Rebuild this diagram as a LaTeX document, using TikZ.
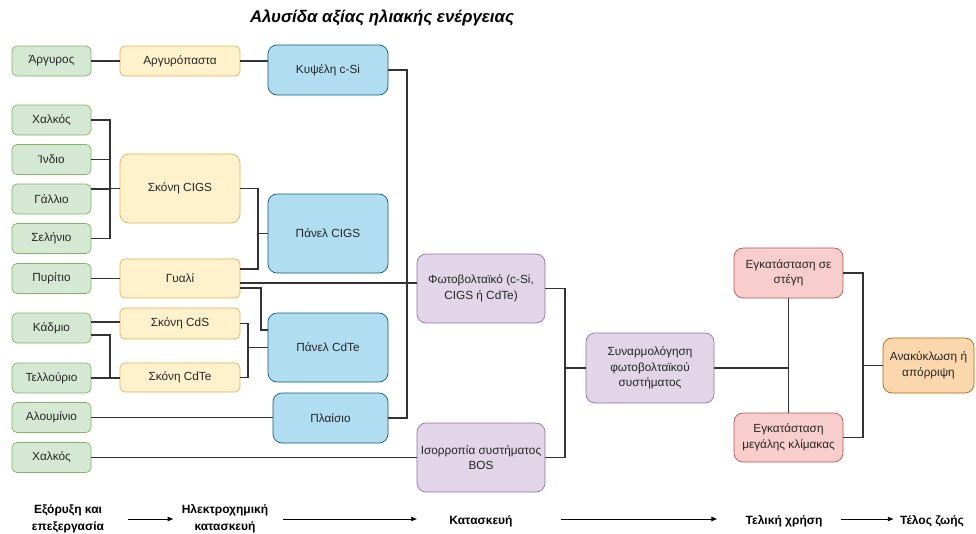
\documentclass[tikz,border=0pt]{standalone}
\usepackage{fontspec}
\setmainfont{Liberation Sans}
\usetikzlibrary{arrows.meta}
\definecolor{gF}{HTML}{D5E8D4}\definecolor{gD}{HTML}{82B366}
\definecolor{yF}{HTML}{FFF2CC}\definecolor{yD}{HTML}{D6B656}
\definecolor{bF}{HTML}{B1DDF0}\definecolor{bD}{HTML}{10739E}
\definecolor{pF}{HTML}{E1D5E7}\definecolor{pD}{HTML}{9673A6}
\definecolor{rF}{HTML}{F8CECC}\definecolor{rD}{HTML}{B85450}
\definecolor{oF}{HTML}{FAD7AC}\definecolor{oD}{HTML}{B46504}
\definecolor{ln}{HTML}{333333}
\begin{document}
\begin{tikzpicture}[x=1pt,y=-1pt,
  cell/.style={draw, rounded corners=5pt, align=center, inner sep=1pt, line width=0.7pt,
    font=\fontsize{11.8}{15.5}\selectfont, text=black!85},
  bigcell/.style={cell, rounded corners=9pt},
  gbox/.style={cell, fill=gF, draw=gD, minimum width=79pt, minimum height=30pt},
  ybox/.style={cell, fill=yF, draw=yD, minimum width=120pt},
  bbox/.style={bigcell, fill=bF, draw=bD!80!black, minimum width=120pt},
  pbox/.style={bigcell, fill=pF, draw=pD, minimum width=128pt},
  rbox/.style={bigcell, fill=rF, draw=rD, minimum width=109pt},
  obox/.style={bigcell, fill=oF, draw=oD, minimum width=91pt},
  wire/.style={draw=ln, line width=1.1pt},
  stage/.style={font=\bfseries\fontsize{12}{17}\selectfont, align=center, text=black, inner sep=0pt},
  arr/.style={draw=black, line width=0.8pt, -{Latex[length=6pt,width=5pt]}}
]
\useasboundingbox[fill=white] (0,0) rectangle (976,533);

\node[font=\bfseries\itshape\fontsize{16.8}{18}\selectfont] (title) at (382,18) {Αλυσίδα αξίας ηλιακής ενέργειας};

% green
\node[gbox] (g1) at (51.5,61) {Άργυρος};
\node[gbox] (g2) at (51.5,120) {Χαλκός};
\node[gbox] (g3) at (51.5,159.5) {Ίνδιο};
\node[gbox] (g4) at (51.5,199) {Γάλλιο};
\node[gbox] (g5) at (51.5,238.5) {Σελήνιο};
\node[gbox] (g6) at (51.5,278.5) {Πυρίτιο};
\node[gbox] (g7) at (51.5,328) {Κάδμιο};
\node[gbox] (g8) at (51.5,378) {Τελλούριο};
\node[gbox] (g9) at (51.5,417.5) {Αλουμίνιο};
\node[gbox] (g10) at (51.5,457.5) {Χαλκός};

% yellow
\node[ybox, minimum height=30pt] (y1) at (180,61) {Αργυρόπαστα};
\node[ybox, rounded corners=9pt, minimum height=69pt] (y2) at (180,188.5) {Σκόνη CIGS};
\node[ybox, minimum height=39pt] (y3) at (180,278.5) {Γυαλί};
\node[ybox, minimum height=31pt] (y4) at (180,323.5) {Σκόνη CdS};
\node[ybox, minimum height=29pt] (y5) at (180,377.5) {Σκόνη CdTe};

% blue
\node[bbox, minimum height=50pt] (b1) at (328,70) {Κυψέλη c-Si};
\node[bbox, minimum height=79pt] (b2) at (328,233.5) {Πάνελ CIGS};
\node[bbox, minimum height=69pt] (b3) at (328,347.5) {Πάνελ CdTe};
\node[bbox, minimum width=115pt, minimum height=50pt] (b4) at (330.5,418) {Πλαίσιο};

% purple
\node[pbox, minimum height=69pt] (p1) at (481,288.5) {Φωτοβολταϊκό (c-Si,\\CIGS ή CdTe)};
\node[pbox, minimum height=69pt] (p2) at (481,457.5) {Ισορροπία συστήματος\\BOS};
\node[pbox, minimum height=70pt] (p3) at (650,368) {Συναρμολόγηση\\φωτοβολταϊκού\\συστήματος};

% red
\node[rbox, minimum height=50pt] (r1) at (788.5,273) {Εγκατάσταση σε\\στέγη};
\node[rbox, minimum height=49pt] (r2) at (788.5,437.5) {Εγκατάσταση\\μεγάλης κλίμακας};

% orange
\node[obox, minimum height=55pt] (o1) at (928.5,365.5) {Ανακύκλωση ή\\απόρριψη};

% bus coordinates
\coordinate (busA) at (110,0);
\coordinate (j1) at (258,0);
\coordinate (j2) at (261,0);
\coordinate (j3) at (248,0);
\coordinate (j4) at (407,0);
\coordinate (j5) at (565,0);
\coordinate (j7) at (863,0);

% connectors
\draw[wire] (g1) -- (y1);
\draw[wire] (y1.east) -- (y1.east -| b1.west);

\draw[wire] (g2.east) -| (busA |- g5.east) -- (g5.east);
\draw[wire] (g3.east) -- (g3.east -| busA);
\draw[wire] ([yshift=10pt]g4.east) -- ([yshift=10pt]g4.east -| busA);
\draw[wire] (busA |- y2.west) -- (y2.west);

\draw[wire] (y2.east) -| (j1 |- b2.west) -- (b2.west);
\draw[wire] ([yshift=9.5pt]y3.east) -| (j1 |- b2.west);
\draw[wire] ([yshift=-4.5pt]y3.east) -- ([yshift=-4.5pt]y3.east -| p1.west);
\draw[wire] ([yshift=-9.5pt]y3.east) -| ([yshift=17.5pt]j2 |- b3.west) -- ([yshift=17.5pt]b3.west);
\draw[wire] (y4.east) -| (j3 |- b3.west) -- (b3.west);
\draw[wire] (y5.east) -| (j3 |- b3.west);

\draw[wire] (g6) -- (y3);
\draw[wire] ([yshift=6pt]g7.east) -- ([yshift=6pt]g7.east -| y4.west);
\draw[wire] ([yshift=-7pt]g7.east) -| (busA |- y5.west) -- (y5.west);
\draw[wire] (g8.east) -- (g8.east -| y5.west);
\draw[wire] (g9.east) -- (g9.east -| b4.west);
\draw[wire] (g10.east) -- (g10.east -| p2.west);

\draw[wire] (b1.east) -| (j4 |- b4.east) -- (b4.east);

\draw[wire] (p1.east) -| (j5 |- p2.east) -- (p2.east);
\draw[wire] (j5 |- p3.west) -- (p3.west);

\draw[wire] (r1.south) -- (r2.north);
\draw[wire] (p3.east) -- (p3.east -| r1.south);

\draw[wire] (r1.east) -| (j7 |- r2.east) -- (r2.east);
\draw[wire] (j7 |- o1.west) -- (o1.west);

% stages
\node[stage] (t1) at (68,519) {Εξόρυξη και\\επεξεργασία};
\node[stage] (t2) at (225,519) {Ηλεκτροχημική\\κατασκευή};
\node[stage] (t3) at (481,521) {Κατασκευή};
\node[stage] (t4) at (784,521) {Τελική χρήση};
\node[stage] (t5) at (932,521) {Τέλος ζωής};

\draw[arr] ([xshift=24pt]t1.east |- 0,519) -- ([xshift=-8pt]t2.west |- 0,519);
\draw[arr] ([xshift=15pt]t2.east |- 0,519) -- ([xshift=-32pt]t3.west |- 0,519);
\draw[arr] ([xshift=48pt]t3.east |- 0,519) -- ([xshift=-28pt]t4.west |- 0,519);
\draw[arr] ([xshift=18pt]t4.east |- 0,519) -- ([xshift=-6pt]t5.west |- 0,519);
\end{tikzpicture}
\end{document}
